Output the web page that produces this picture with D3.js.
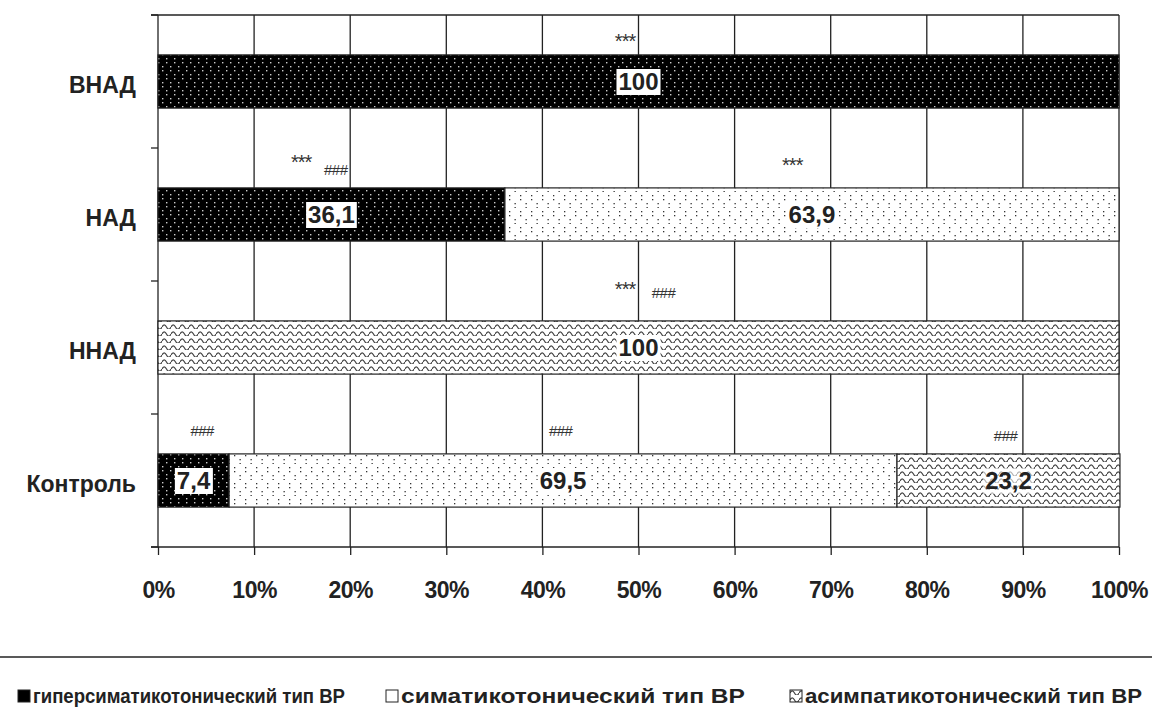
<!DOCTYPE html>
<html><head><meta charset="utf-8">
<script src="https://cdn.jsdelivr.net/npm/d3@7"></script>
<style>
html,body{margin:0;padding:0;background:#fff;}
svg{display:block;font-family:"Liberation Sans",Arial,sans-serif;}
</style></head>
<body>
<svg id="chart" width="1152" height="727"></svg>
<script>
const categories = ["ВНАД", "НАД", "ННАД", "Контроль"];
const seriesNames = ["гиперсиматикотонический тип ВР", "симатикотонический тип ВР", "асимпатикотонический тип ВР"];
const hyperValues = [100, 36.1, 0, 7.4];
const symValues = [0, 63.9, 0, 69.5];
const asymValues = [0, 0, 100, 23.2];
const xTicks = [0, 10, 20, 30, 40, 50, 60, 70, 80, 90, 100];
// significance marks: category, x position (% of axis), text, lift of its centre above the bar (px)
const marks = [
  {cat: "ВНАД", x: 48.6, text: "***", lift: 19},
  {cat: "НАД", x: 14.9, text: "***", lift: 31},
  {cat: "НАД", x: 18.5, text: "###", lift: 18},
  {cat: "НАД", x: 66.0, text: "***", lift: 28},
  {cat: "ННАД", x: 48.6, text: "***", lift: 37},
  {cat: "ННАД", x: 52.6, text: "###", lift: 28},
  {cat: "Контроль", x: 4.6, text: "###", lift: 23},
  {cat: "Контроль", x: 41.9, text: "###", lift: 23},
  {cat: "Контроль", x: 88.2, text: "###", lift: 18}
];

const svg = d3.select("#chart");
const margin = {left: 158, right: 33, top: 15, bottom: 180};
const W = 1152, H = 727;
const x = d3.scaleLinear().domain([0, 100]).range([margin.left, W - margin.right]);
const y = d3.scaleBand().domain(categories).range([margin.top, H - margin.bottom]).paddingInner(0.6).paddingOuter(0.3);

// patterns
const defs = svg.append("defs");
const p1 = defs.append("pattern").attr("id", "pHyper").attr("patternUnits", "userSpaceOnUse").attr("width", 16).attr("height", 16);
p1.append("rect").attr("width", 16).attr("height", 16).attr("fill", "#000");
[[2,2],[10,2],[6,10],[14,10],[2,6],[10,6],[6,14],[14,14]].forEach(([a,b]) => p1.append("rect").attr("x", a).attr("y", b).attr("width", 1.4).attr("height", 1.4).attr("fill", "#ccc"));
const p2 = defs.append("pattern").attr("id", "pSym").attr("patternUnits", "userSpaceOnUse").attr("width", 22).attr("height", 16);
p2.append("rect").attr("width", 22).attr("height", 16).attr("fill", "#fff");
[[3,3],[14,3],[8.5,11],[19.5,11],[3,7],[14,7],[8.5,15],[19.5,15]].forEach(([a,b]) => p2.append("rect").attr("x", a).attr("y", b).attr("width", 1.3).attr("height", 1.3).attr("fill", "#333"));
const p3 = defs.append("pattern").attr("id", "pAsym").attr("patternUnits", "userSpaceOnUse").attr("width", 9).attr("height", 7);
p3.append("rect").attr("width", 9).attr("height", 7).attr("fill", "#fff");
p3.append("path").attr("d", "M0,5 Q2.25,0.6 4.5,5 T9,5").attr("fill", "none").attr("stroke", "#444").attr("stroke-width", 1.2);

const gridColor = "#222";
// vertical gridlines
svg.append("g").selectAll("line").data(xTicks.slice(1)).join("line")
  .attr("x1", d => x(d)).attr("x2", d => x(d))
  .attr("y1", margin.top).attr("y2", H - margin.bottom)
  .attr("stroke", gridColor).attr("stroke-width", 1.3);
// top border
svg.append("line").attr("x1", margin.left - 7).attr("x2", x(100)).attr("y1", margin.top).attr("y2", margin.top).attr("stroke", gridColor).attr("stroke-width", 1.3);

// y axis line + ticks at band boundaries
const step = y.step();
const yBounds = d3.range(categories.length + 1).map(i => margin.top + i * step);
svg.append("line").attr("x1", margin.left).attr("x2", margin.left).attr("y1", margin.top).attr("y2", H - margin.bottom).attr("stroke", gridColor).attr("stroke-width", 1.3);
svg.append("g").selectAll("line").data(yBounds).join("line")
  .attr("x1", margin.left - 7).attr("x2", margin.left).attr("y1", d => d).attr("y2", d => d)
  .attr("stroke", gridColor).attr("stroke-width", 1.3);

// x axis
const xAxis = d3.axisBottom(x).tickValues(xTicks).tickFormat(d => d + "%").tickSize(8).tickPadding(27);
const gx = svg.append("g").attr("transform", `translate(0,${H - margin.bottom})`).call(xAxis);
gx.select(".domain").attr("d", `M${margin.left - 7},0H${x(100)}`).attr("stroke", gridColor).attr("stroke-width", 1.3);
gx.selectAll(".tick line").attr("stroke", gridColor).attr("stroke-width", 1.3);
gx.selectAll(".tick text").attr("font-size", 23).attr("font-weight", "bold").attr("fill", "#222").attr("font-family", "Liberation Sans, Arial, sans-serif")
  .attr("letter-spacing", -0.5);

// y labels
svg.append("g").selectAll("text").data(categories).join("text")
  .attr("x", margin.left - 22).attr("y", d => y(d) + y.bandwidth() / 2 + 11)
  .attr("text-anchor", "end").attr("font-size", 23).attr("font-weight", "bold").attr("fill", "#222")
  .text(d => d);

// stacked bars
const rows = categories.map((c, i) => ({cat: c, vals: [hyperValues[i], symValues[i], asymValues[i]]}));
const fills = ["url(#pHyper)", "url(#pSym)", "url(#pAsym)"];
const segs = [];
rows.forEach(r => {
  let acc = 0;
  r.vals.forEach((v, k) => { if (v > 0) segs.push({cat: r.cat, x0: acc, x1: acc + v, v, k}); acc += v; });
});
svg.append("g").selectAll("rect").data(segs).join("rect")
  .attr("x", d => x(d.x0)).attr("width", d => x(d.x1) - x(d.x0))
  .attr("y", d => y(d.cat)).attr("height", y.bandwidth())
  .attr("fill", d => fills[d.k]).attr("stroke", "#222").attr("stroke-width", 1.2);

// value labels
const fmt = v => String(v).replace(".", ",");
const lg = svg.append("g");
segs.forEach(d => {
  const cx = (x(d.x0) + x(d.x1)) / 2, cy = y(d.cat) + y.bandwidth() / 2;
  const t = lg.append("text").attr("x", cx).attr("y", cy + 8.5).attr("text-anchor", "middle")
    .attr("font-size", 24).attr("font-weight", "bold").attr("fill", "#222").text(fmt(d.v));
  const bb = t.node().getBBox();
  lg.insert("rect", "text").attr("x", bb.x - 2).attr("y", bb.y + 1).attr("width", bb.width + 4).attr("height", bb.height - 1)
    .attr("fill", "#fff").attr("opacity", d.k === 2 && d.v < 100 ? 0.6 : 1);
});

// significance marks
svg.append("g").selectAll("text").data(marks).join("text")
  .attr("x", d => x(d.x)).attr("y", d => y(d.cat) - d.lift + (d.text === "***" ? 12 : 5))
  .attr("text-anchor", "middle").attr("font-size", d => d.text === "***" ? 20 : 15).attr("fill", "#333")
  .attr("letter-spacing", d => d.text === "###" ? -0.5 : -1)
  .text(d => d.text);

// legend
svg.append("line").attr("x1", 0).attr("x2", W).attr("y1", 657).attr("y2", 657).attr("stroke", "#222").attr("stroke-width", 1.5);
const legX = [18, 386, 790];
const legFill = ["#000", "#fff", "url(#pAsym)"];
const legW = [327, 359, 352];
const lgg = svg.append("g").selectAll("g").data(seriesNames).join("g").attr("transform", (d, i) => `translate(${legX[i]},702)`);
lgg.append("rect").attr("x", 0).attr("y", -12).attr("width", 12).attr("height", 12).attr("fill", (d, i) => legFill[i]).attr("stroke", "#222").attr("stroke-width", 1);
lgg.append("text").attr("x", 15).attr("y", 1).attr("font-size", 20).attr("font-weight", "bold").attr("fill", "#222")
  .attr("textLength", (d, i) => legW[i] - 15).attr("lengthAdjust", "spacingAndGlyphs").text(d => d);
</script>
</body></html>
